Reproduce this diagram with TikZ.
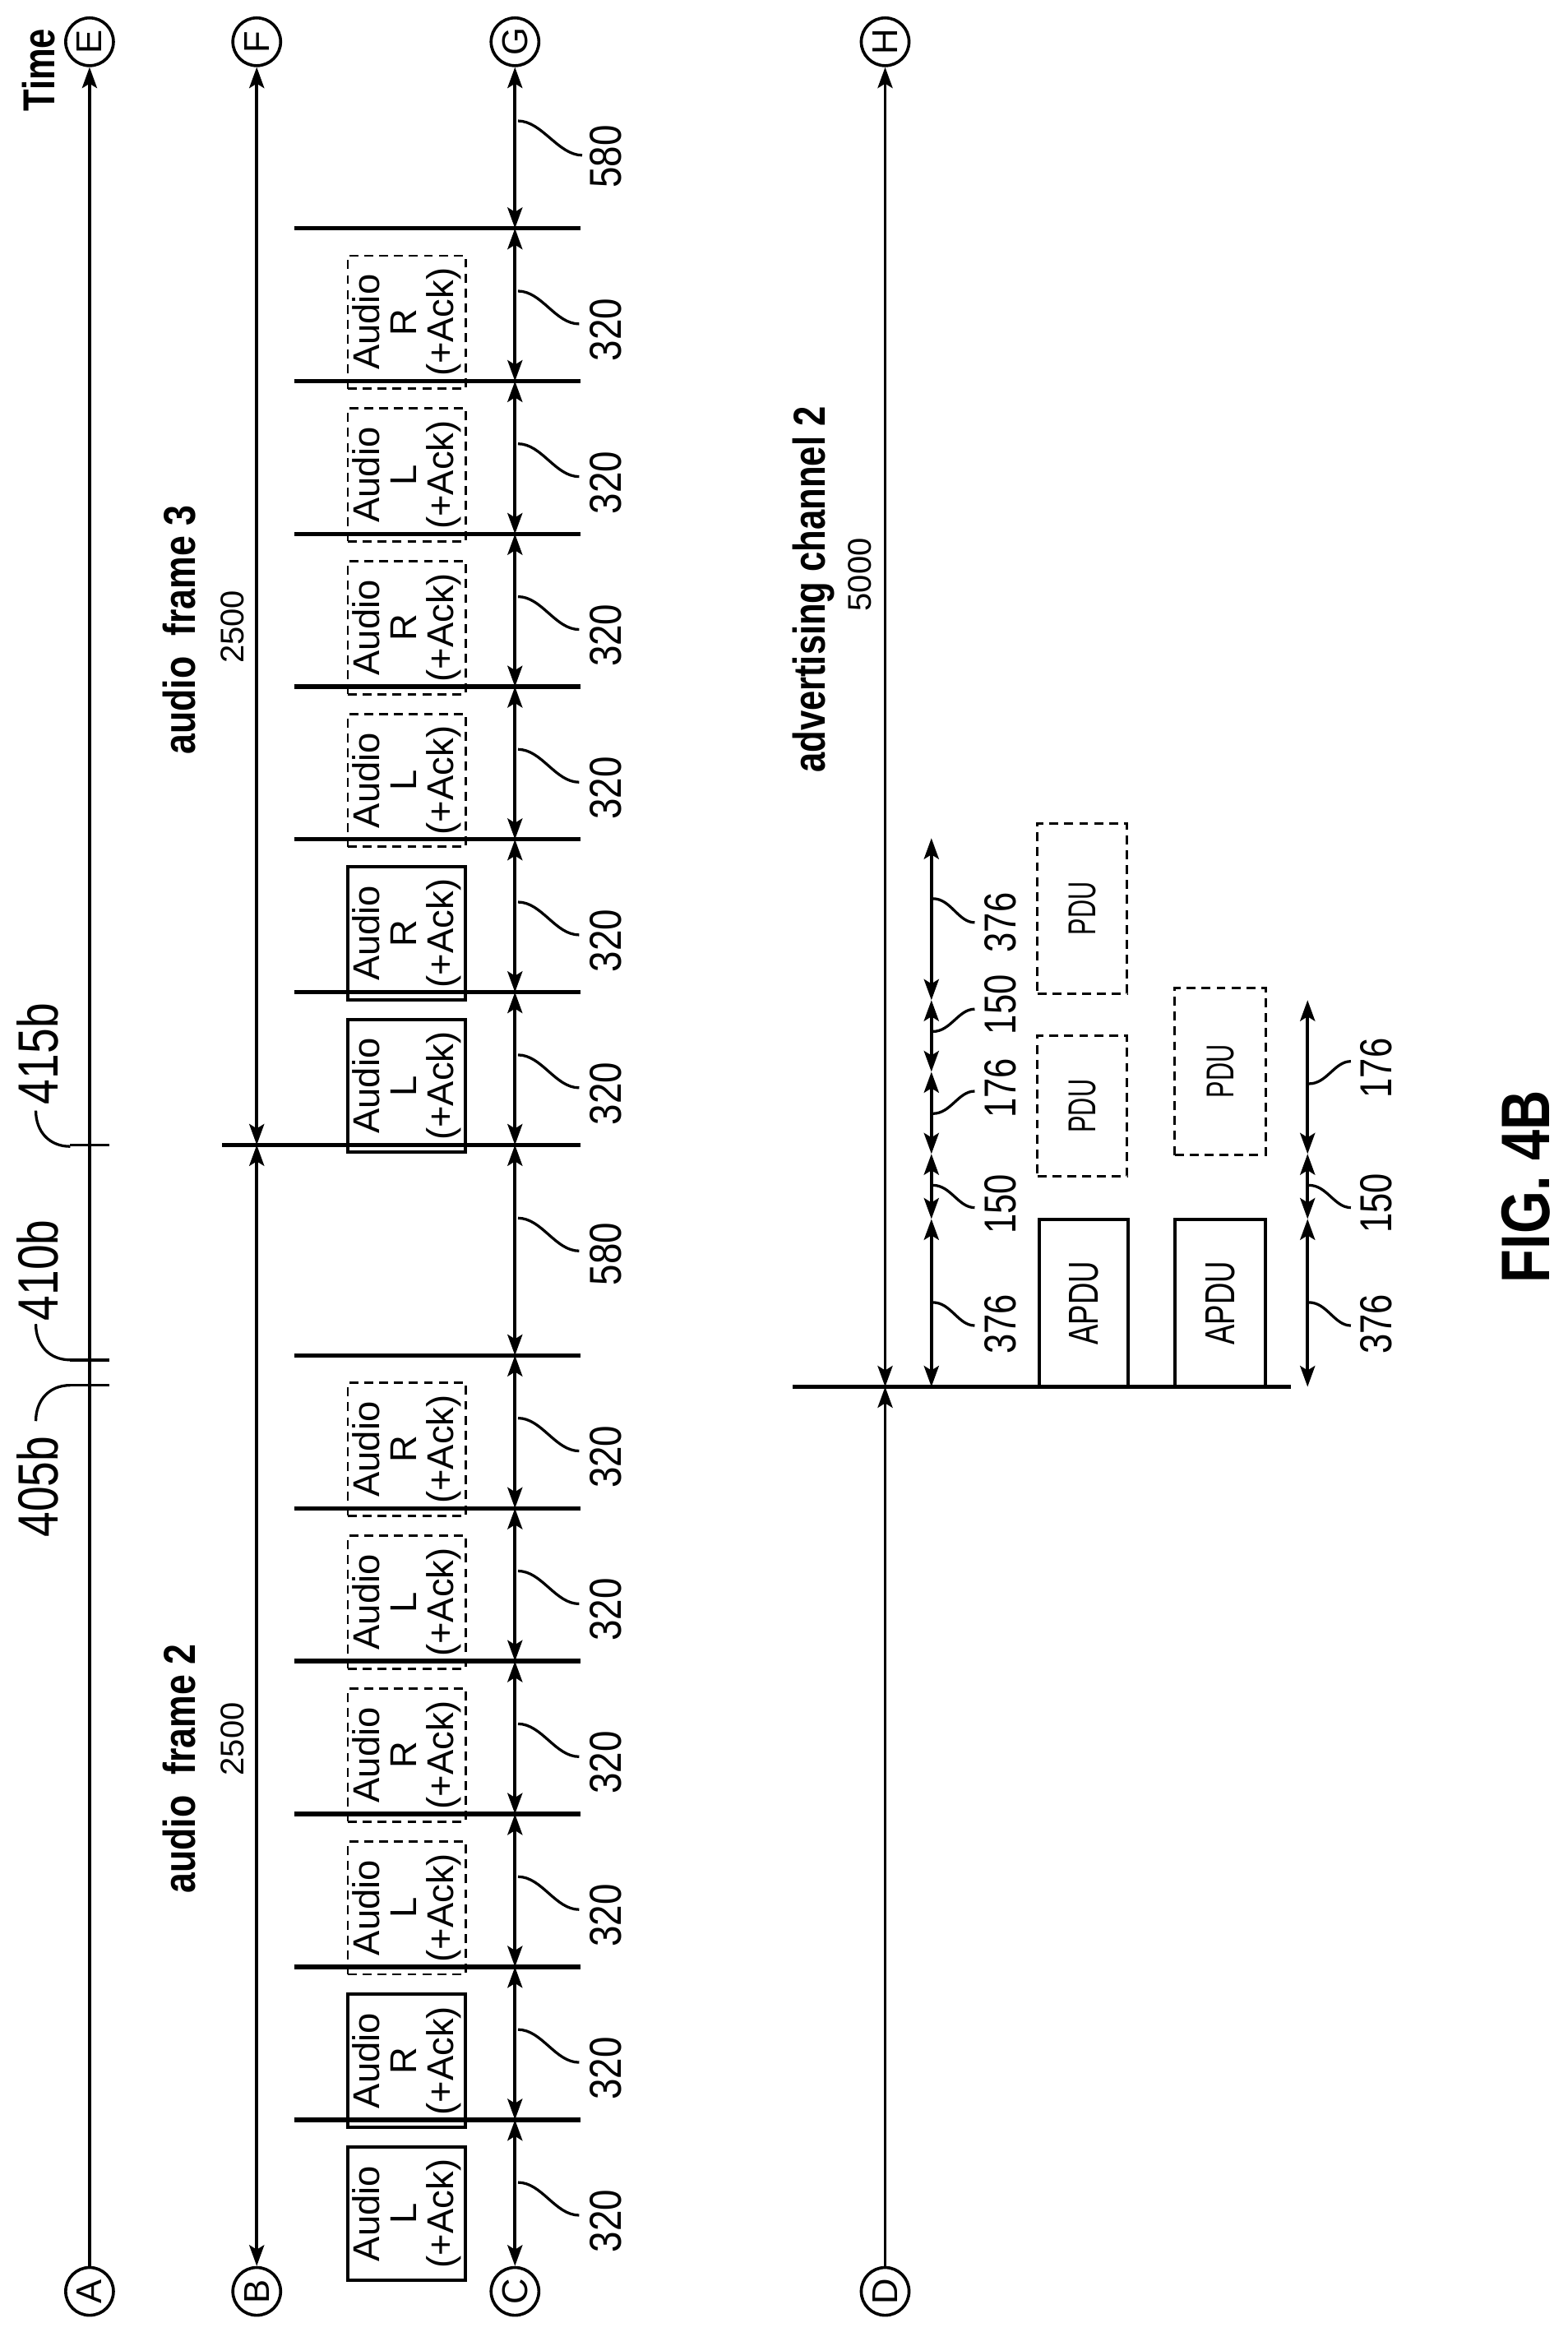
\documentclass[tikz,border=0pt]{standalone}
\usepackage{fontspec}
\setmainfont{Liberation Sans}
\usetikzlibrary{arrows.meta}
\newcommand\cz[2]{\scalebox{#1}[1]{#2}}
\begin{document}
\begin{tikzpicture}[x=0.5pt,y=-0.5pt,
  ln/.style={line width=1pt},
  bar/.style={line width=1.5pt},
  tip/.style={-{Stealth[length=7pt,width=5pt,inset=1.5pt]}},
  dim/.style={line width=1pt,{Stealth[length=7pt,width=5pt,inset=1.5pt]}-{Stealth[length=7pt,width=5pt,inset=1.5pt]}},
  circ/.style={circle,draw,line width=1pt,minimum size=16pt,inner sep=0pt,font=\fontsize{12}{12}\selectfont,rotate=90},
  sbox/.style={draw,line width=1.1pt},
  dbox/.style={draw,line width=0.8pt,dash pattern=on 3pt off 2pt},
  lead/.style={line width=0.9pt},
  num/.style={rotate=90,font=\fontsize{15}{15}\selectfont,inner sep=0pt},
  ref/.style={rotate=90,font=\fontsize{19}{19}\selectfont,inner sep=0pt},
  btxt/.style={rotate=90,align=center,font=\fontsize{12.5}{12.5}\selectfont,inner sep=0pt},
  ttl/.style={rotate=90,font=\bfseries\fontsize{15}{15}\selectfont,inner sep=0pt},
  sub/.style={rotate=90,font=\fontsize{11}{11}\selectfont,inner sep=0pt},
]
\useasboundingbox (0,0) rectangle (1050,1571.6);
% circles
\foreach \n/\x/\y/\l in {E/60/28/E,F/172/28/F,G/345/28/G,H/593/28/H,A/60/1535/A,B/172/1535/B,C/345/1535/C,D/593/1535/D}
  \node[circ] (\n) at (\x,\y) {\l};
\node[ttl,font=\bfseries\fontsize{15}{15}\selectfont] (time) at (26,47) {\cz{0.8}{Time}};
% line A
\draw[ln,tip] (A.east) -- (E.west);
\foreach \y in {767,911,928} \draw[ln] (47,\y) -- (73,\y);
\draw[lead] (47,768) .. controls (33,768) and (24,758) .. (24,744);
\draw[lead] (47,911) .. controls (33,911) and (24,901) .. (24,887);
\draw[lead] (47,928) .. controls (33,928) and (24,938) .. (24,952);
\node[ref] (r415) at (25,706) {\cz{0.8}{415b}};
\node[ref] (r410) at (25,851) {\cz{0.8}{410b}};
\node[ref] (r405) at (25,996) {\cz{0.8}{405b}};
% line B
\coordinate (b415) at (172,767);
\draw[dim] (B.east) -- (b415);
\draw[dim] (b415) -- (F.west);
\draw[bar] (149,767) -- (389,767);
% frame labels
\node[ttl] (f2) at (120,1185) {\cz{0.82}{audio\ \ frame 2}};
\node[sub] (f2n) at (156,1165) {2500};
\node[ttl] (f3) at (120,422) {\cz{0.82}{audio\ \ frame 3}};
\node[sub] (f3n) at (156,420) {2500};
\node[ttl] (adv) at (545,395) {\cz{0.8}{advertising channel 2}};
\node[sub] (advn) at (576,385) {5000};
% bars
\foreach \y in {908,1010.4,1112.8,1215.2,1317.6,1420,153,255.3,357.7,460,562.3,664.7}
  \draw[bar] (197,\y) -- (389,\y);
% slots
\foreach \t/\b/\s/\st in {1420/1522.4/L/sbox,1317.6/1420/R/sbox,1215.2/1317.6/L/dbox,1112.8/1215.2/R/dbox,1010.4/1112.8/L/dbox,908/1010.4/R/dbox,
  664.7/767/L/sbox,562.3/664.7/R/sbox,460/562.3/L/dbox,357.7/460/R/dbox,255.3/357.7/L/dbox,153/255.3/R/dbox}{
  \node[\st,minimum width=39.5pt,minimum height=44.5pt,inner sep=0pt] (bx) at (272.5,{\b-39.5}) {};
  \node[btxt] at (bx) {Audio\\\s\\(+Ack)};
  \pgfmathsetmacro\ya{\t+42}\pgfmathsetmacro\yb{\t+64}\pgfmathsetmacro\yc{\t+68}
  \draw[lead] (347,\ya) .. controls (363,\ya) and (372,\yb) .. (388,\yb);
  \node[num] at (406,\yc) {\cz{0.84}{320}};
}
% C line segments
\draw[dim] (C.east) -- (345,1420);
\foreach \a/\b in {1420/1317.6,1317.6/1215.2,1215.2/1112.8,1112.8/1010.4,1010.4/908,908/767,767/664.7,664.7/562.3,562.3/460,460/357.7,357.7/255.3,255.3/153}
  \draw[dim] (345,\a) -- (345,\b);
\draw[dim] (345,153) -- (G.west);
% 580 labels
\draw[lead] (347,816) .. controls (363,816) and (372,838) .. (388,838);
\node[num] at (406,840) {\cz{0.84}{580}};
\draw[lead] (347,81) .. controls (363,81) and (374,104) .. (390,104);
\node[num] at (406,105) {\cz{0.84}{580}};
% D line
\coordinate (dbar) at (593,929);
\draw[ln,tip] (D.east) -- (dbar);
\draw[dim] (dbar) -- (H.west);
\draw[bar] (531,929) -- (865,929);
% advertising boxes
\node[sbox,minimum width=30pt,minimum height=56pt,inner sep=0pt] (ap1) at (726,873) {};
\node[rotate=90,font=\fontsize{14}{14}\selectfont] at (ap1) {\cz{0.72}{APDU}};
\node[sbox,minimum width=30.5pt,minimum height=56pt,inner sep=0pt] (ap2) at (817.5,873) {};
\node[rotate=90,font=\fontsize{14}{14}\selectfont] at (ap2) {\cz{0.72}{APDU}};
\node[dbox,minimum width=30pt,minimum height=47pt,inner sep=0pt] (p1) at (725,741) {};
\node[rotate=90,font=\fontsize{13}{13}\selectfont] at (p1) {\cz{0.65}{PDU}};
\node[dbox,minimum width=30pt,minimum height=57pt,inner sep=0pt] (p2) at (725,608.6) {};
\node[rotate=90,font=\fontsize{13}{13}\selectfont] at (p2) {\cz{0.65}{PDU}};
\node[dbox,minimum width=30.5pt,minimum height=56pt,inner sep=0pt] (p3) at (817.5,717.7) {};
\node[rotate=90,font=\fontsize{13}{13}\selectfont] at (p3) {\cz{0.65}{PDU}};
% dimension columns
\foreach \a/\b in {929/816.6,816.6/773,773/718,718/670,670/561.5}
  \draw[dim] (624,\a) -- (624,\b);
\foreach \a/\b in {929/816.6,816.6/773,773/670}
  \draw[dim] (876,\a) -- (876,\b);
% column labels
\foreach \x/\ya/\yb/\yc/\t in {624/872.5/888/887/376,624/794/809/806.6/150,624/746/731/729/176,624/691/676/673/150,624/602/618/618/376,
  876/872.5/888/887/376,876/794/809/806/150,876/726/711/715.6/176}{
  \pgfmathsetmacro\xb{\x+29}\pgfmathsetmacro\xt{\x+46}
  \draw[lead] (\x+1,\ya) .. controls (\x+13,\ya) and (\x+18,\yb) .. (\xb,\yb);
  \node[num] at (\xt,\yc) {\cz{0.8}{\t}};
}
\node[rotate=90,font=\bfseries\fontsize{23}{23}\selectfont,inner sep=0pt] (fig) at (1022,795) {\cz{0.8}{FIG. 4B}};
\end{tikzpicture}
\end{document}
